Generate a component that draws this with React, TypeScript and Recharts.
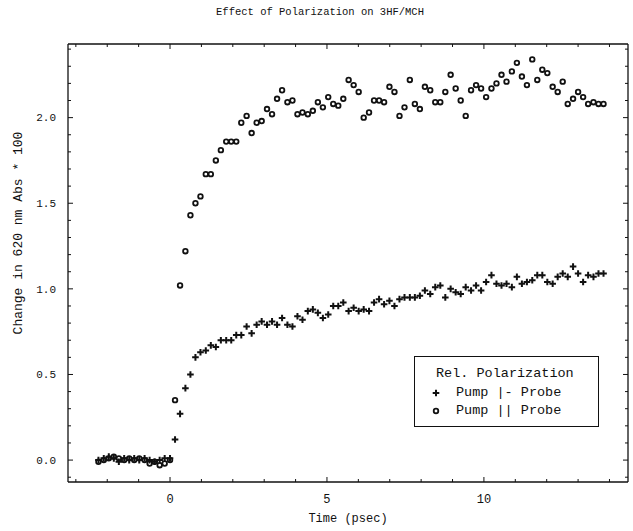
/**
 * PolarizationChart
 *
 * Scatter plot of the transient absorption change at 620 nm for 3HF/MCH,
 * pump polarization perpendicular vs parallel to the probe.
 */

import { ScatterChart, Scatter, XAxis, YAxis } from 'recharts'

// delay times (psec), shared by both series
const TIMES = [
  -2.28, -2.11, -1.95, -1.79, -1.63, -1.46, -1.3, -1.14, -0.98, -0.81, -0.65, -0.49, -0.33, -0.17, 0.0,
  0.16, 0.32, 0.49, 0.65, 0.81, 0.97, 1.14, 1.3, 1.46, 1.62,
  1.79, 1.95, 2.11, 2.27, 2.44, 2.6, 2.76, 2.92, 3.09, 3.25,
  3.41, 3.57, 3.74, 3.9, 4.06, 4.22, 4.39, 4.55, 4.71, 4.87,
  5.04, 5.2, 5.36, 5.52, 5.69, 5.85, 6.01, 6.17, 6.34, 6.5,
  6.66, 6.82, 6.99, 7.15, 7.31, 7.47, 7.64, 7.8, 7.96, 8.12,
  8.29, 8.45, 8.61, 8.77, 8.94, 9.1, 9.26, 9.42, 9.59, 9.75,
  9.91, 10.07, 10.24, 10.4, 10.56, 10.72, 10.89, 11.05, 11.21, 11.37,
  11.54, 11.7, 11.86, 12.02, 12.19, 12.35, 12.51, 12.67, 12.84, 13.0,
  13.16, 13.32, 13.49, 13.65, 13.81,
]

// Pump |- Probe (plus markers)
const PERPENDICULAR = [
  0.0, 0.01, 0.02, 0.01, -0.01, 0.01, 0.0, 0.01, 0.0, 0.01, 0.0, -0.01, 0.0, 0.01, 0.01,
  0.12, 0.27, 0.42, 0.5, 0.6, 0.63, 0.64, 0.67, 0.66, 0.7,
  0.7, 0.7, 0.73, 0.73, 0.78, 0.74, 0.79, 0.81, 0.79, 0.81,
  0.79, 0.83, 0.79, 0.78, 0.84, 0.82, 0.87, 0.88, 0.86, 0.83,
  0.85, 0.9, 0.9, 0.92, 0.87, 0.89, 0.87, 0.88, 0.87, 0.92,
  0.94, 0.91, 0.93, 0.9, 0.94, 0.95, 0.95, 0.95, 0.96, 0.99,
  0.97, 1.01, 1.02, 0.95, 1.0, 0.98, 0.97, 1.01, 0.99, 1.02,
  0.99, 1.04, 1.08, 1.03, 1.02, 1.03, 1.01, 1.07, 1.03, 1.04,
  1.05, 1.08, 1.08, 1.04, 1.03, 1.07, 1.09, 1.07, 1.13, 1.09,
  1.04, 1.08, 1.07, 1.09, 1.09,
]

// Pump || Probe (open circles)
const PARALLEL = [
  -0.01, 0.0, 0.01, 0.02, 0.01, 0.0, 0.01, 0.0, 0.01, 0.0, -0.02, -0.01, -0.03, -0.02, 0.0,
  0.35, 1.02, 1.22, 1.43, 1.5, 1.54, 1.67, 1.67, 1.75, 1.81,
  1.86, 1.86, 1.86, 1.97, 2.01, 1.91, 1.97, 1.98, 2.05, 2.02,
  2.11, 2.16, 2.09, 2.1, 2.02, 2.03, 2.02, 2.04, 2.09, 2.06,
  2.12, 2.08, 2.07, 2.11, 2.22, 2.19, 2.15, 2.0, 2.03, 2.1,
  2.1, 2.09, 2.18, 2.15, 2.01, 2.06, 2.22, 2.08, 2.05, 2.18,
  2.16, 2.09, 2.09, 2.15, 2.25, 2.17, 2.1, 2.01, 2.16, 2.19,
  2.17, 2.12, 2.17, 2.2, 2.25, 2.21, 2.27, 2.32, 2.24, 2.19,
  2.34, 2.22, 2.28, 2.26, 2.18, 2.15, 2.21, 2.08, 2.11, 2.15,
  2.12, 2.08, 2.09, 2.08, 2.08,
]

const X_TICKS = [-3, -2, -1, 0, 1, 2, 3, 4, 5, 6, 7, 8, 9, 10, 11, 12, 13, 14]
const Y_TICKS = [
  -0.1, 0, 0.1, 0.2, 0.3, 0.4, 0.5, 0.6, 0.7, 0.8, 0.9, 1.0, 1.1, 1.2,
  1.3, 1.4, 1.5, 1.6, 1.7, 1.8, 1.9, 2.0, 2.1, 2.2, 2.3, 2.4,
]

const X_DOMAIN: [number, number] = [-3.25, 14.59]
const Y_DOMAIN: [number, number] = [-0.128, 2.43]

const FONT = '"Liberation Mono", "DejaVu Sans Mono", monospace'
const INK = '#111'

const perpData = TIMES.map((t, i) => ({ t, v: PERPENDICULAR[i] }))
const paraData = TIMES.map((t, i) => ({ t, v: PARALLEL[i] }))

const isMajorX = (v: number) => v % 5 === 0
const isMajorY = (v: number) => Math.abs(v * 2 - Math.round(v * 2)) < 1e-6

function PlusMark({ cx, cy }: any) {
  return (
    <path
      d={`M${cx - 3.3},${cy}H${cx + 3.3}M${cx},${cy - 3.3}V${cy + 3.3}`}
      stroke={INK}
      strokeWidth={2}
      fill="none"
    />
  )
}

function RingMark({ cx, cy }: any) {
  return <circle cx={cx} cy={cy} r={2.3} fill="none" stroke={INK} strokeWidth={1.8} />
}

// ticks are drawn inward, labels outward
function BottomTick({ x, y, payload }: any) {
  const major = isMajorX(payload.value)
  return (
    <g>
      <line x1={x} x2={x} y1={y} y2={y - (major ? 5 : 3)} stroke={INK} />
      {major && (
        <text x={x} y={y + 21} textAnchor="middle" fontSize={12} fontFamily={FONT} fill={INK}>
          {payload.value}
        </text>
      )}
    </g>
  )
}

function TopTick({ x, y, payload }: any) {
  const major = isMajorX(payload.value)
  return <line x1={x} x2={x} y1={y} y2={y + (major ? 5 : 3)} stroke={INK} />
}

function LeftTick({ x, y, payload }: any) {
  const major = isMajorY(payload.value)
  return (
    <g>
      <line x1={x} x2={x + (major ? 5 : 3)} y1={y} y2={y} stroke={INK} />
      {major && (
        <text x={x - 12} y={y} dy="0.35em" textAnchor="end" fontSize={11} fontFamily={FONT} fill={INK}>
          {payload.value.toFixed(1)}
        </text>
      )}
    </g>
  )
}

function RightTick({ x, y, payload }: any) {
  const major = isMajorY(payload.value)
  return <line x1={x} x2={x - (major ? 5 : 3)} y1={y} y2={y} stroke={INK} />
}

const axisLine = { stroke: INK, strokeWidth: 1.3 }

export default function App() {
  return (
    <div
      style={{
        position: 'absolute',
        left: 0,
        top: 0,
        width: 633,
        height: 531,
        background: '#fff',
        fontFamily: FONT,
        color: INK,
      }}
    >
      <ScatterChart width={633} height={531} margin={{ top: 43, right: 4, bottom: 48, left: 67 }}>
        <XAxis
          xAxisId="b"
          type="number"
          dataKey="t"
          domain={X_DOMAIN}
          ticks={X_TICKS}
          interval={0}
          allowDataOverflow
          height={1}
          tickSize={0}
          tickMargin={0}
          tickLine={false}
          axisLine={axisLine}
          tick={(p: any) => <BottomTick {...p} />}
        />
        <XAxis
          xAxisId="t"
          orientation="top"
          type="number"
          dataKey="t"
          domain={X_DOMAIN}
          ticks={X_TICKS}
          interval={0}
          allowDataOverflow
          height={1}
          tickSize={0}
          tickMargin={0}
          tickLine={false}
          axisLine={axisLine}
          tick={(p: any) => <TopTick {...p} />}
        />
        <YAxis
          yAxisId="l"
          type="number"
          dataKey="v"
          domain={Y_DOMAIN}
          ticks={Y_TICKS}
          interval={0}
          allowDataOverflow
          width={1}
          tickSize={0}
          tickMargin={0}
          tickLine={false}
          axisLine={axisLine}
          tick={(p: any) => <LeftTick {...p} />}
        />
        <YAxis
          yAxisId="r"
          orientation="right"
          type="number"
          dataKey="v"
          domain={Y_DOMAIN}
          ticks={Y_TICKS}
          interval={0}
          allowDataOverflow
          width={1}
          tickSize={0}
          tickMargin={0}
          tickLine={false}
          axisLine={axisLine}
          tick={(p: any) => <RightTick {...p} />}
        />
        <Scatter
          name="Pump |- Probe"
          data={perpData}
          xAxisId="b"
          yAxisId="l"
          shape={PlusMark}
          isAnimationActive={false}
        />
        <Scatter
          name="Pump || Probe"
          data={paraData}
          xAxisId="b"
          yAxisId="l"
          shape={RingMark}
          isAnimationActive={false}
        />
      </ScatterChart>

      {/* Title */}
      <div
        style={{
          position: 'absolute',
          left: 0,
          width: 640,
          top: 6,
          textAlign: 'center',
          fontSize: 10.5,
        }}
      >
        Effect of Polarization on 3HF/MCH
      </div>

      {/* Axis titles */}
      <div
        style={{
          position: 'absolute',
          left: 68,
          width: 560,
          top: 512,
          textAlign: 'center',
          fontSize: 12,
        }}
      >
        Time (psec)
      </div>
      <div
        style={{
          position: 'absolute',
          left: 19 - 120,
          top: 233 - 9,
          width: 240,
          height: 18,
          lineHeight: '18px',
          textAlign: 'center',
          fontSize: 13,
          transform: 'rotate(-90deg)',
        }}
      >
        Change in 620 nm Abs * 100
      </div>

      {/* Legend */}
      <div
        style={{
          position: 'absolute',
          left: 414,
          top: 356,
          width: 183,
          height: 69,
          border: `1px solid ${INK}`,
          fontSize: 13.5,
          lineHeight: '18px',
          boxSizing: 'content-box',
        }}
      >
        <div style={{ position: 'absolute', left: 21, top: 8, whiteSpace: 'pre' }}>Rel. Polarization</div>
        <div style={{ position: 'absolute', left: 16, top: 27, whiteSpace: 'pre', display: 'flex', alignItems: 'center' }}>
          <svg width={10} height={10} style={{ marginRight: 15 }}>
            <PlusMark cx={5} cy={5} />
          </svg>
          Pump |- Probe
        </div>
        <div style={{ position: 'absolute', left: 16, top: 45, whiteSpace: 'pre', display: 'flex', alignItems: 'center' }}>
          <svg width={10} height={10} style={{ marginRight: 15 }}>
            <RingMark cx={5} cy={5} />
          </svg>
          Pump || Probe
        </div>
      </div>
    </div>
  )
}
